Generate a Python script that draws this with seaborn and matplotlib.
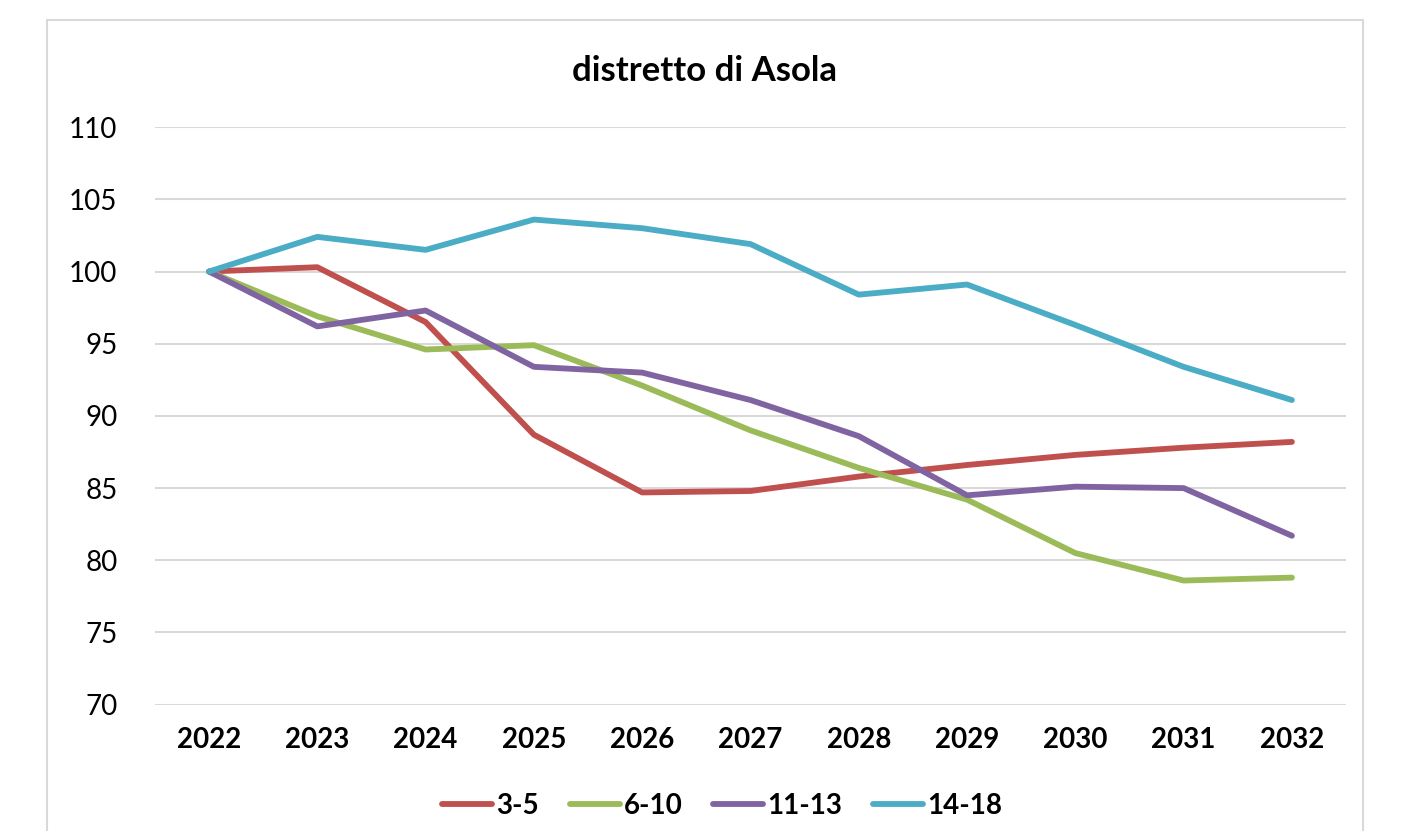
import seaborn as sns
import matplotlib.pyplot as plt
import pandas as pd
from matplotlib.patches import Rectangle

years = [2022, 2023, 2024, 2025, 2026, 2027, 2028, 2029, 2030, 2031, 2032]
eta_3_5 = [100, 100.3, 96.5, 88.7, 84.7, 84.8, 85.8, 86.6, 87.3, 87.8, 88.2]
eta_6_10 = [100, 96.9, 94.6, 94.9, 92.1, 89.0, 86.4, 84.2, 80.5, 78.6, 78.8]
eta_11_13 = [100, 96.2, 97.3, 93.4, 93.0, 91.1, 88.6, 84.5, 85.1, 85.0, 81.7]
eta_14_18 = [100, 102.4, 101.5, 103.6, 103.0, 101.9, 98.4, 99.1, 96.3, 93.4, 91.1]
series_names = ['3-5', '6-10', '11-13', '14-18']
colors = ['#C0504D', '#9BBB59', '#8064A2', '#4BACC6']

rows = []
for name, vals in zip(series_names, [eta_3_5, eta_6_10, eta_11_13, eta_14_18]):
    for i, (y, v) in enumerate(zip(years, vals)):
        rows.append({'pos': i, 'anno': y, 'valore': v, 'fascia': name})
df = pd.DataFrame(rows)

sns.set_style('white')
plt.rcParams['font.family'] = ['Lato', 'DejaVu Sans']
plt.rcParams['text.color'] = 'black'

fig = plt.figure(figsize=(14.08, 8.31), dpi=100)
ax = fig.add_axes([0.110, 0.152, 0.846, 0.695])

fig.patches.append(Rectangle((47 / 1408, -0.1), (1363 - 47) / 1408, 1.1 - 20 / 831,
                             transform=fig.transFigure, fill=False,
                             edgecolor='#D9D9D9', linewidth=1.5))

sns.lineplot(data=df, x='pos', y='valore', hue='fascia', palette=colors,
             linewidth=4.2, ax=ax, legend=False)
for ln in ax.lines:
    ln.set_solid_capstyle('round')
    ln.set_solid_joinstyle('round')

ax.set_xlim(-0.5, len(years) - 0.5)
ax.set_ylim(70, 110)
ax.set_yticks(range(70, 111, 5))
ax.set_xticks(range(len(years)))
ax.set_xticklabels([str(y) for y in years], fontweight='bold')
ax.tick_params(axis='both', length=0, labelsize=20, colors='black')
ax.tick_params(axis='x', pad=16)
ax.tick_params(axis='y', pad=27)
ax.yaxis.grid(True, color='#D9D9D9', linewidth=1.5)
ax.set_axisbelow(True)
for s in ax.spines.values():
    s.set_visible(False)
ax.set_xlabel('')
ax.set_ylabel('')

fig.text(0.5, 1 - 71 / 831, 'distretto di Asola', ha='center', va='center',
         fontsize=25, fontweight='bold', color='black')

handles = [plt.Line2D([], [], color=c, linewidth=4.2) for c in colors]
fig.legend(handles, series_names, loc='center', bbox_to_anchor=(0.513, 1 - 806 / 831),
           ncol=4, frameon=False, prop={'size': 20, 'weight': 'bold'},
           handlelength=1.8, columnspacing=1.1, handletextpad=0.15)

plt.savefig('out.png', dpi=100)
